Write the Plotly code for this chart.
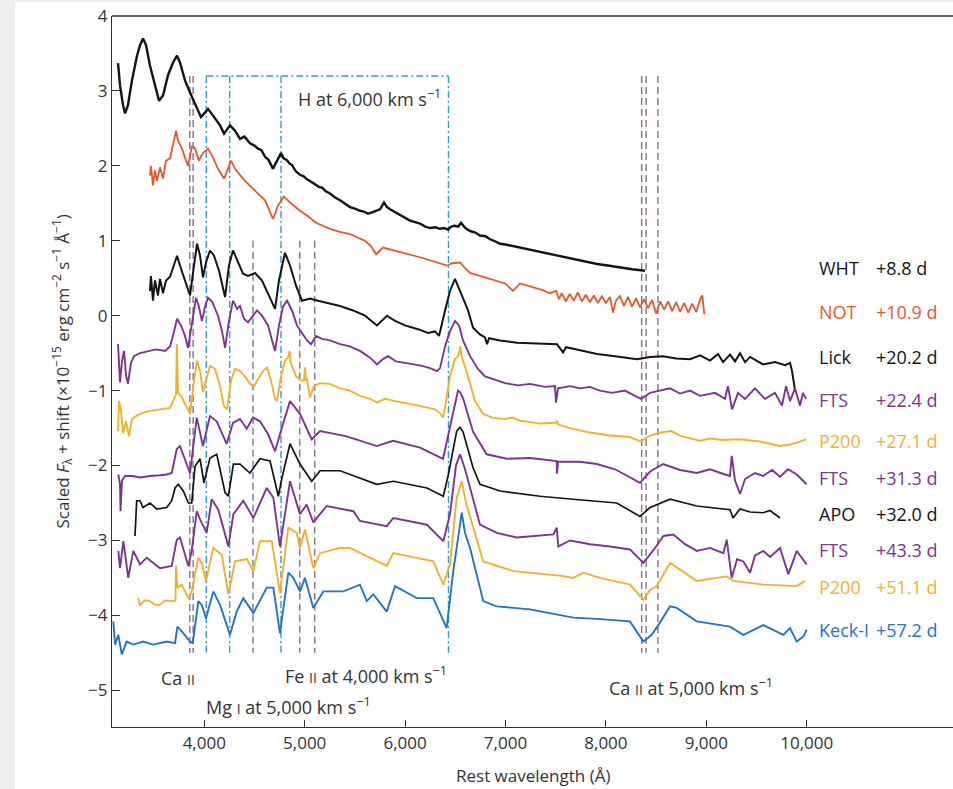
import plotly.graph_objects as go

# ---------------- data: (rest wavelength Å, scaled flux + shift) ----------------
WHT = [(3141,3.37),(3161,3.07),(3191,2.81),(3211,2.70),(3240,2.81),(3280,3.14),(3330,3.47),(3360,3.61),(3390,3.70),(3420,3.61),
       (3459,3.34),(3509,3.07),(3549,2.87),(3589,2.94),(3639,3.21),(3689,3.38),(3729,3.47),(3758,3.38),(3808,3.14),(3858,2.98),
       (3918,2.81),(3967,2.65),(4007,2.71),(4037,2.76),(4087,2.67),(4157,2.54),(4197,2.43),(4256,2.54),(4306,2.47),(4356,2.36),
       (4400,2.39),(4455,2.30),(4500,2.27),(4535,2.23),(4570,2.21),(4605,2.12),(4640,2.08),(4685,1.96),(4710,2.03),(4734,2.09),
       (4764,2.17),(4790,2.10),(4820,2.08),(4850,2.03),(4874,2.01),(4910,1.93),(4953,1.88),(4990,1.86),(5023,1.82),(5060,1.79),
       (5103,1.75),(5140,1.72),(5173,1.71),(5210,1.66),(5252,1.63),(5300,1.58),(5352,1.54),(5400,1.50),(5451,1.45),(5500,1.43),
       (5551,1.40),(5590,1.39),(5631,1.36),(5670,1.38),(5711,1.40),(5750,1.42),(5790,1.51),(5820,1.45),(5850,1.42),(5900,1.38),
       (5950,1.34),(6000,1.31),(6049,1.27),(6100,1.25),(6149,1.23),(6200,1.19),(6248,1.17),(6300,1.18),(6348,1.16),(6390,1.17),
       (6428,1.15),(6460,1.19),(6497,1.20),(6530,1.19),(6557,1.24),(6600,1.17),(6647,1.13),(6700,1.11),(6746,1.07),(6800,1.06),
       (6846,1.02),(6900,0.99),(6946,0.96),(7000,0.95),(7070,0.93),(7145,0.91),(7250,0.88),(7344,0.85),(7430,0.82),(7513,0.80),
       (7600,0.78),(7693,0.75),(7800,0.72),(7912,0.69),(8020,0.67),(8141,0.64),(8260,0.62),(8390,0.60)]

NOT = [(3459,1.87),(3469,2.00),(3489,1.74),(3509,1.94),(3529,1.80),(3559,1.98),(3589,1.83),(3619,2.07),(3659,2.10),(3689,2.27),
       (3719,2.47),(3738,2.34),(3778,2.23),(3818,2.07),(3838,2.00),(3878,2.27),(3908,2.23),(3947,2.07),(3987,2.17),(4037,2.23),
       (4077,2.14),(4137,1.96),(4197,1.83),(4236,1.96),(4266,2.07),(4316,1.94),(4406,1.80),(4505,1.67),(4605,1.54),(4685,1.29),
       (4734,1.47),(4794,1.59),(4854,1.51),(4953,1.40),(5040,1.32),(5113,1.24),(5180,1.20),(5252,1.16),(5350,1.12),(5451,1.09),
       (5530,1.04),(5601,1.00),(5660,0.93),(5711,0.82),(5780,0.91),(5840,0.89),(5900,0.87),(5980,0.84),(6049,0.82),(6120,0.79),
       (6199,0.76),(6270,0.73),(6348,0.69),(6418,0.67),(6468,0.70),(6547,0.71),(6600,0.63),(6647,0.57),(6746,0.53),(6820,0.50),
       (6896,0.47),(6996,0.43),(7075,0.33),(7145,0.43),(7220,0.40),(7294,0.37),(7370,0.34),(7443,0.30),(7503,0.33),(7533,0.22),
       (7560,0.30),(7600,0.19),(7640,0.29),(7680,0.20),(7720,0.31),(7760,0.19),(7800,0.28),(7840,0.18),(7880,0.27),(7920,0.17),
       (7960,0.26),(8000,0.17),(8040,0.25),(8070,0.04),(8100,0.20),(8140,0.26),(8180,0.13),(8220,0.25),(8260,0.12),(8300,0.23),
       (8340,0.11),(8380,0.22),(8420,0.10),(8460,0.21),(8500,0.03),(8540,0.19),(8580,0.08),(8620,0.19),(8660,0.06),(8700,0.18),
       (8740,0.05),(8780,0.17),(8820,0.04),(8860,0.16),(8900,0.05),(8940,0.22),(8960,0.27),(8980,0.02)]

LICK = [(3459,0.33),(3469,0.53),(3489,0.20),(3509,0.47),(3539,0.27),(3559,0.49),(3589,0.30),(3619,0.47),(3659,0.52),(3699,0.67),
        (3729,0.80),(3758,0.67),(3808,0.47),(3858,0.27),(3898,0.67),(3928,0.96),(3958,0.80),(3987,0.51),(4017,0.71),(4057,0.87),
        (4097,0.80),(4147,0.60),(4207,0.25),(4246,0.67),(4286,0.87),(4336,0.71),(4386,0.56),(4436,0.53),(4505,0.57),(4575,0.47),
        (4645,0.27),(4705,0.09),(4744,0.47),(4804,0.84),(4854,0.67),(4914,0.40),(4973,0.20),(5053,0.23),(5133,0.20),(5252,0.16),
        (5352,0.13),(5482,0.07),(5601,0.00),(5720,-0.13),(5820,0.00),(5900,-0.07),(5999,-0.13),(6129,-0.18),(6228,-0.23),(6298,-0.21),
        (6338,-0.27),(6398,0.07),(6447,0.33),(6497,0.49),(6547,0.33),(6627,0.07),(6677,-0.16),(6746,-0.25),(6796,-0.29),(6816,-0.38),
        (6836,-0.30),(6946,-0.33),(7115,-0.36),(7294,-0.37),(7513,-0.38),(7573,-0.49),(7603,-0.42),(7743,-0.46),(7912,-0.51),(8091,-0.54),
        (8310,-0.58),(8440,-0.55),(8569,-0.54),(8699,-0.57),(8838,-0.58),(8938,-0.53),(9037,-0.60),(9117,-0.51),(9167,-0.62),(9236,-0.52),
        (9286,-0.61),(9336,-0.50),(9386,-0.62),(9436,-0.55),(9565,-0.65),(9685,-0.62),(9784,-0.66),(9834,-0.63),(9854,-0.74),(9884,-1.00)]

FTS_22 = [(3141,-0.38),(3151,-0.74),(3161,-0.89),(3181,-0.60),(3201,-0.47),(3221,-0.80),(3240,-0.91),(3270,-0.63),(3300,-0.54),(3360,-0.50),
          (3440,-0.47),(3519,-0.45),(3609,-0.47),(3659,-0.41),(3699,-0.21),(3729,-0.04),(3768,-0.13),(3808,-0.27),(3838,-0.43),(3878,-0.07),
          (3918,0.24),(3947,0.12),(3977,-0.07),(4007,0.12),(4037,0.24),(4077,0.19),(4137,0.00),(4177,-0.21),(4207,-0.43),(4246,-0.07),
          (4286,0.20),(4326,0.09),(4356,0.13),(4396,-0.04),(4436,-0.09),(4485,0.00),(4525,0.07),(4575,0.00),(4635,-0.13),(4675,-0.33),
          (4705,-0.47),(4744,-0.13),(4784,0.12),(4824,0.20),(4874,0.07),(4923,-0.13),(4973,-0.23),(5023,-0.33),(5063,-0.38),(5113,-0.27),
          (5173,-0.31),(5252,-0.33),(5352,-0.38),(5451,-0.41),(5551,-0.47),(5651,-0.56),(5720,-0.65),(5780,-0.58),(5830,-0.54),(5909,-0.61),
          (5999,-0.63),(6079,-0.65),(6169,-0.67),(6248,-0.70),(6318,-0.74),(6348,-0.70),(6398,-0.41),(6447,-0.21),(6497,-0.07),(6537,-0.13),
          (6577,-0.33),(6647,-0.54),(6726,-0.71),(6796,-0.81),(6896,-0.85),(6995,-0.90),(7124,-0.93),(7244,-0.91),(7394,-0.95),(7493,-0.94),
          (7503,-1.16),(7523,-0.97),(7642,-0.94),(7742,-0.97),(7841,-0.95),(7941,-1.00),(8061,-1.03),(8190,-1.00),(8290,-1.07),(8350,-1.11),
          (8439,-1.03),(8539,-1.00),(8638,-0.97),(8738,-1.04),(8838,-1.00),(8937,-1.07),(9086,-1.03),(9186,-1.11),(9216,-0.94),(9256,-1.25),
          (9316,-1.03),(9385,-1.11),(9485,-0.97),(9585,-1.11),(9684,-1.03),(9754,-1.20),(9794,-0.94),(9834,-1.14),(9883,-0.97),(9933,-1.20),
          (9963,-1.03),(9993,-1.11)]

P200_27 = [(3141,-1.54),(3151,-1.14),(3171,-1.27),(3191,-1.57),(3221,-1.41),(3250,-1.61),(3280,-1.38),(3320,-1.34),(3380,-1.30),(3459,-1.27),
           (3559,-1.25),(3659,-1.23),(3689,-1.14),(3719,-1.05),(3727,-0.38),(3738,-1.03),(3768,-1.07),(3818,-1.21),(3858,-1.31),(3898,-0.87),
           (3928,-0.60),(3958,-0.74),(3987,-1.02),(4017,-0.87),(4057,-0.67),(4107,-0.71),(4157,-0.94),(4197,-1.21),(4226,-1.25),(4266,-0.87),
           (4306,-0.71),(4356,-0.74),(4406,-0.81),(4455,-0.91),(4495,-0.94),(4535,-0.85),(4585,-0.74),(4625,-0.69),(4665,-0.87),(4705,-1.11),
           (4724,-1.14),(4764,-0.81),(4804,-0.60),(4834,-0.56),(4850,-0.47),(4860,-0.62),(4874,-0.67),(4913,-0.81),(4953,-0.85),(4973,-0.87),
           (4995,-0.86),(5003,-0.69),(5013,-0.86),(5023,-0.85),(5053,-1.09),(5093,-0.94),(5153,-0.90),(5252,-0.91),(5352,-0.97),(5451,-1.00),
           (5551,-1.07),(5651,-1.11),(5720,-1.16),(5800,-1.11),(5900,-1.14),(5999,-1.16),(6099,-1.19),(6199,-1.22),(6298,-1.25),(6348,-1.30),
           (6378,-1.36),(6408,-1.14),(6447,-0.81),(6497,-0.58),(6527,-0.54),(6552,-0.41),(6560,-0.52),(6577,-0.60),(6627,-0.81),(6696,-1.14),
           (6776,-1.31),(6866,-1.36),(6995,-1.38),(7075,-1.36),(7145,-1.40),(7344,-1.44),(7503,-1.43),(7513,-1.40),(7523,-1.45),(7642,-1.50),
           (7841,-1.56),(8041,-1.60),(8240,-1.62),(8350,-1.68),(8420,-1.61),(8539,-1.56),(8650,-1.54),(8738,-1.60),(8838,-1.63),(8937,-1.67),
           (9036,-1.64),(9156,-1.66),(9335,-1.65),(9534,-1.68),(9734,-1.74),(9834,-1.72),(9933,-1.68),(9993,-1.65)]

FTS_31 = [(3144,-2.12),(3161,-2.25),(3166,-2.61),(3181,-2.20),(3211,-2.14),(3290,-2.14),(3360,-2.16),(3459,-2.14),(3559,-2.13),(3626,-2.12),
          (3676,-2.10),(3726,-1.78),(3758,-1.74),(3808,-1.91),(3858,-2.10),(3925,-1.36),(3987,-1.74),(4057,-1.34),(4124,-1.41),(4223,-1.71),
          (4286,-1.43),(4356,-1.38),(4423,-1.51),(4485,-1.36),(4555,-1.41),(4635,-1.58),(4705,-1.81),(4754,-1.58),(4854,-1.14),(4953,-1.31),
          (5070,-1.65),(5153,-1.54),(5419,-1.61),(5718,-1.74),(5880,-1.67),(6149,-1.76),(6378,-1.91),(6447,-1.49),(6527,-1.00),(6547,-1.02),
          (6577,-1.10),(6677,-1.55),(6813,-1.85),(7012,-1.91),(7244,-1.90),(7510,-1.94),(7513,-2.11),(7523,-1.95),(7743,-1.95),(7909,-1.98),
          (8091,-2.05),(8340,-2.23),(8440,-2.08),(8570,-1.98),(8739,-2.06),(8905,-2.10),(9037,-2.05),(9186,-2.12),(9236,-2.14),(9253,-1.87),
          (9286,-2.20),(9336,-2.38),(9386,-2.18),(9485,-2.10),(9565,-2.14),(9655,-2.06),(9734,-2.15),(9814,-2.05),(9901,-2.12),(10000,-2.25)]

APO = [(3310,-2.94),(3327,-2.47),(3360,-2.47),(3390,-2.56),(3459,-2.50),(3526,-2.58),(3626,-2.56),(3676,-2.47),(3709,-2.30),(3741,-2.25),
       (3791,-2.34),(3841,-2.50),(3875,-2.50),(3908,-2.01),(3958,-1.91),(3997,-2.23),(4057,-1.90),(4124,-1.85),(4207,-2.36),(4240,-2.41),
       (4290,-1.98),(4356,-1.98),(4455,-2.10),(4555,-1.91),(4655,-1.94),(4738,-2.41),(4771,-2.18),(4854,-1.71),(4953,-1.98),(5070,-2.21),
       (5153,-2.07),(5352,-2.07),(5718,-2.25),(5884,-2.21),(6218,-2.30),(6381,-2.41),(6431,-2.12),(6514,-1.54),(6547,-1.49),(6577,-1.55),
       (6677,-2.03),(6746,-2.25),(6946,-2.34),(7344,-2.41),(7673,-2.45),(8108,-2.50),(8340,-2.68),(8440,-2.56),(8639,-2.45),(8905,-2.54),
       (9236,-2.59),(9266,-2.70),(9336,-2.58),(9436,-2.62),(9565,-2.63),(9635,-2.60),(9734,-2.70)]

FTS_43 = [(3144,-3.14),(3161,-3.37),(3194,-3.01),(3243,-3.50),(3293,-3.14),(3360,-3.32),(3427,-3.23),(3559,-3.37),(3676,-3.34),(3726,-2.99),
          (3758,-2.96),(3808,-3.21),(3841,-3.34),(3875,-3.14),(3925,-2.61),(3958,-2.72),(3991,-2.81),(4024,-2.90),(4074,-2.45),(4140,-2.59),
          (4240,-3.08),(4290,-2.65),(4389,-2.47),(4489,-2.70),(4622,-2.30),(4688,-2.43),(4754,-3.08),(4854,-2.21),(4953,-2.65),(5020,-2.52),
          (5086,-2.76),(5219,-2.54),(5485,-2.61),(5551,-2.74),(5817,-2.81),(5883,-2.70),(6218,-2.79),(6381,-3.01),(6447,-2.65),(6507,-2.00),
          (6547,-1.85),(6597,-2.05),(6746,-2.79),(6913,-2.90),(7112,-2.96),(7477,-2.92),(7510,-2.83),(7526,-3.08),(7643,-3.00),(7842,-3.05),
          (8041,-3.08),(8240,-3.12),(8373,-3.30),(8490,-3.10),(8572,-2.94),(8672,-2.92),(8788,-3.05),(8905,-3.14),(9037,-3.10),(9170,-3.17),
          (9203,-2.99),(9253,-3.50),(9306,-3.25),(9369,-3.28),(9436,-3.43),(9485,-3.20),(9568,-3.14),(9635,-3.22),(9734,-3.10),(9817,-3.45),
          (9901,-3.14),(10000,-3.32)]

P200_51 = [(3343,-3.77),(3360,-3.86),(3410,-3.80),(3459,-3.81),(3509,-3.86),(3559,-3.86),(3609,-3.80),(3676,-3.81),(3713,-3.80),(3718,-3.34),
           (3732,-3.63),(3775,-3.59),(3841,-3.77),(3875,-3.68),(3941,-3.23),(3975,-3.30),(4017,-3.54),(4090,-3.10),(4174,-3.19),(4240,-3.72),
           (4306,-3.28),(4423,-3.25),(4489,-3.41),(4555,-3.01),(4672,-3.01),(4754,-3.70),(4837,-2.83),(4921,-2.90),(4953,-3.10),(5003,-2.85),
           (5086,-3.37),(5153,-3.17),(5352,-3.10),(5451,-3.10),(5618,-3.21),(5817,-3.34),(5883,-3.17),(6182,-3.25),(6281,-3.28),(6381,-3.59),
           (6447,-3.32),(6514,-2.43),(6564,-2.21),(6607,-2.50),(6779,-3.28),(7078,-3.41),(7543,-3.47),(7676,-3.50),(7775,-3.43),(7942,-3.50),
           (8240,-3.59),(8373,-3.79),(8440,-3.66),(8506,-3.61),(8639,-3.30),(8805,-3.45),(8905,-3.54),(9203,-3.48),(9269,-3.54),(9568,-3.59),
           (9901,-3.61),(9983,-3.54)]

KECK = [(3094,-4.08),(3111,-4.39),(3144,-4.26),(3178,-4.52),(3227,-4.35),(3293,-4.39),(3393,-4.35),(3493,-4.39),(3626,-4.35),(3709,-4.37),
        (3732,-4.15),(3775,-4.21),(3858,-4.35),(3885,-4.37),(3941,-3.81),(3975,-3.86),(4017,-4.04),(4090,-3.68),(4157,-3.86),(4256,-4.26),
        (4323,-3.95),(4389,-3.77),(4489,-3.97),(4555,-3.81),(4622,-3.63),(4688,-3.63),(4754,-4.24),(4837,-3.43),(4887,-3.50),(4953,-3.68),
        (5003,-3.50),(5086,-3.90),(5186,-3.68),(5385,-3.68),(5551,-3.59),(5618,-3.81),(5684,-3.72),(5817,-3.95),(5900,-3.61),(6116,-3.77),
        (6281,-3.77),(6414,-4.17),(6480,-3.41),(6547,-2.79),(6564,-2.63),(6597,-2.90),(6647,-3.10),(6779,-3.81),(6913,-3.88),(7244,-3.92),
        (7676,-4.03),(7942,-4.05),(8240,-4.08),(8373,-4.35),(8456,-4.26),(8522,-4.13),(8639,-3.88),(8705,-3.90),(8905,-4.08),(9236,-4.15),
        (9369,-4.26),(9568,-4.13),(9767,-4.26),(9834,-4.17),(9901,-4.35),(9967,-4.28),(10000,-4.19)]

INSTRUMENTS = ["WHT", "NOT", "Lick", "FTS", "P200", "FTS", "APO", "FTS", "P200", "Keck-I"]
PHASES = ["+8.8 d", "+10.9 d", "+20.2 d", "+22.4 d", "+27.1 d", "+31.3 d", "+32.0 d", "+43.3 d", "+51.1 d", "+57.2 d"]
SERIES = [WHT, NOT, LICK, FTS_22, P200_27, FTS_31, APO, FTS_43, P200_51, KECK]

# line identifications (Å)
H_LINES = [4020, 4253, 4764, 6432]
CAII_HK = [3856, 3889]
CAII_IR = [8356, 8400, 8518]
MGI = [4485]
FEII = [4951, 5100]

# ---------------- styling ----------------
BLACK, ORANGE, PURPLE, GOLD, BLUE = "#141414", "#E2592D", "#7D3490", "#F2B12B", "#2275C3"
COLORS = [BLACK, ORANGE, BLACK, PURPLE, GOLD, PURPLE, BLACK, PURPLE, GOLD, BLUE]
WIDTHS = [2.4, 1.8, 2.0, 1.9, 1.9, 1.9, 1.7, 1.9, 1.9, 1.9]
LABEL_Y = [0.64, 0.05, -0.55, -1.13, -1.67, -2.16, -2.65, -3.13, -3.62, -4.19]
H_COL = "#2A9FDA"
CA_COL = "#8C6C8D"
MG_COL = "#6C7AA7"
FONT = "Open Sans"
TXT = "#333333"

fig = go.Figure()

TOP_H, TOP_FE, BOT = 3.2, 1.0, -4.5

def vline(x, y0, y1, color, dash):
    fig.add_trace(go.Scatter(x=[x, x], y=[y0, y1], mode="lines", showlegend=False, hoverinfo="skip",
                             line=dict(color=color, width=1.4, dash=dash)))

for x in H_LINES:
    vline(x, TOP_H, BOT, H_COL, "7px,3px,2px,3px")
fig.add_trace(go.Scatter(x=[H_LINES[0], H_LINES[-1]], y=[TOP_H, TOP_H], mode="lines", showlegend=False,
                         hoverinfo="skip", line=dict(color=H_COL, width=1.4, dash="7px,3px,2px,3px")))
for x in CAII_HK + CAII_IR:
    vline(x, TOP_H, BOT, CA_COL, "7px,4px")
for x in MGI:
    vline(x, TOP_FE, BOT, MG_COL, "7px,4px")
for x in FEII:
    vline(x, TOP_FE, BOT, CA_COL, "7px,4px")

for s, c, w in zip(SERIES, COLORS, WIDTHS):
    fig.add_trace(go.Scatter(x=[p[0] for p in s], y=[p[1] for p in s], mode="lines", showlegend=False,
                             line=dict(color=c, width=w), hoverinfo="skip"))

ann = []
for name, ph, c, y in zip(INSTRUMENTS, PHASES, COLORS, LABEL_Y):
    ann.append(dict(x=10100, y=y, xref="x", yref="y", text=name, showarrow=False, xanchor="left",
                    yanchor="middle", font=dict(family=FONT, size=18, color=c)))
    ann.append(dict(x=10670, y=y, xref="x", yref="y", text=ph, showarrow=False, xanchor="left",
                    yanchor="middle", font=dict(family=FONT, size=18, color=c)))

sc = "<span style='font-size:14px'>%s</span>"
kms = "km s<sup>\u22121</sup>"
line_labels = [
    (4914, 2.90, "H at 6,000 " + kms),
    (3552, -4.84, "Ca " + sc % "II"),
    (4787, -4.80, "Fe " + sc % "II" + " at 4,000 " + kms),
    (3997, -5.21, "Mg " + sc % "I" + " at 5,000 " + kms),
    (8008, -4.96, "Ca " + sc % "II" + " at 5,000 " + kms),
]
for x, y, t in line_labels:
    ann.append(dict(x=x, y=y, xref="x", yref="y", text=t, showarrow=False, xanchor="left", yanchor="middle",
                    font=dict(family=FONT, size=18, color=TXT)))

ann.append(dict(x=0.5, y=0, xref="paper", yref="paper", yshift=-48, text="Rest wavelength (\u00c5)",
                showarrow=False, xanchor="center", yanchor="middle", font=dict(family=FONT, size=17, color=TXT)))
ann.append(dict(x=0, y=0.5, xref="paper", yref="paper", xshift=-50, textangle=-90,
                text="Scaled <i>F</i><sub>\u03bb</sub> + shift (\u00d710<sup>\u221215</sup> erg cm<sup>\u22122</sup> s<sup>\u22121</sup> \u00c5<sup>\u22121</sup>)",
                showarrow=False, xanchor="center", yanchor="middle", font=dict(family=FONT, size=17, color=TXT)))

shapes = [
    dict(type="line", xref="paper", yref="paper", x0=0, x1=1, y0=1, y1=1, line=dict(color="#333333", width=1.3)),
    dict(type="rect", xref="paper", yref="paper", x0=-0.14, x1=-0.1153, y0=-0.1, y1=1.03,
         line=dict(width=0), fillcolor="#EFEFEF", layer="below"),
    dict(type="rect", xref="paper", yref="paper", x0=-0.14, x1=1.01, y0=1.0197, y1=1.03,
         line=dict(width=0), fillcolor="#EFEFEF", layer="below"),
]

fig.update_layout(
    width=953, height=789,
    margin=dict(l=112, r=0, t=16, b=62),
    paper_bgcolor="white", plot_bgcolor="white",
    annotations=ann, shapes=shapes,
    font=dict(family=FONT, color=TXT),
    xaxis=dict(range=[3081, 11457], tickvals=[4000, 5000, 6000, 7000, 8000, 9000, 10000], tickformat=",",
               ticks="inside", ticklen=7, tickwidth=1.2, tickcolor="#333333", showline=True, linecolor="#333333",
               linewidth=1.3, showgrid=False, zeroline=False, tickfont=dict(family=FONT, size=17, color=TXT)),
    yaxis=dict(range=[-5.49, 4.0], tickvals=[-5, -4, -3, -2, -1, 0, 1, 2, 3, 4],
               ticks="inside", ticklen=8, tickwidth=1.2, tickcolor="#333333", showline=True, linecolor="#333333",
               linewidth=1.3, showgrid=False, zeroline=False, tickfont=dict(family=FONT, size=17, color=TXT)),
)

fig.write_html("out.html", config={"displayModeBar": False},
               post_script="document.body.style.margin='0px';document.body.style.padding='0px';document.body.style.overflow='hidden';")
